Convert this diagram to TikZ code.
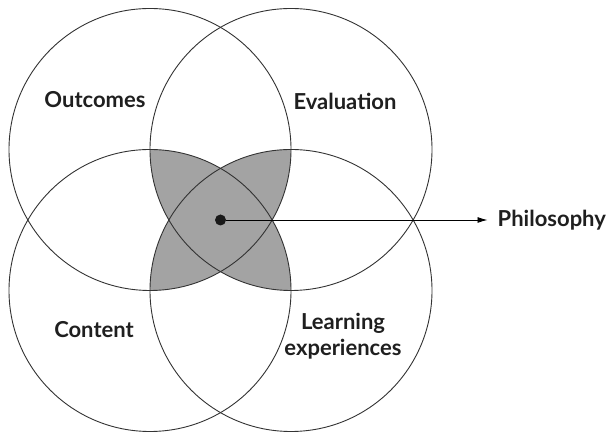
\documentclass[tikz,border=0pt]{standalone}
\usepackage{fontspec}
\setmainfont{Lato}
\usetikzlibrary{arrows.meta, calc}

\begin{document}
\begin{tikzpicture}[
  x=1pt, y=1pt,
  ring/.style = {draw=black!80, line width=0.9pt},
  petal/.style = {fill=black!36},
  tag/.style = {font=\bfseries\fontsize{22}{26}\selectfont, text=black!88, align=center, inner sep=0pt},
  hub/.style = {circle, fill=black!90, minimum size=11pt, inner sep=0pt},
  pointer/.style = {-{Latex[length=10pt, width=6pt]}, line width=0.9pt, shorten >=10pt}
]

% Frame
\useasboundingbox (0,0) rectangle (606,433);

% Parameters
\def\R{141}
\def\D{70.5}

% Coordinates
\coordinate (mid) at (220.5, 213);
\coordinate (cTL) at ($(mid)+(-\D, \D)$);
\coordinate (cTR) at ($(mid)+(\D, \D)$);
\coordinate (cBL) at ($(mid)+(-\D, -\D)$);
\coordinate (cBR) at ($(mid)+(\D, -\D)$);

% Shaded overlap
\begin{scope}
  \clip (cTL) circle (\R);
  \fill[petal] (cBR) circle (\R);
\end{scope}
\begin{scope}
  \clip (cTR) circle (\R);
  \fill[petal] (cBL) circle (\R);
\end{scope}

% Circles
\foreach \c in {cTL, cTR, cBL, cBR}
  \draw[ring] (\c) circle (\R);

% Labels
\node[tag] (outcomes) at ($(cTL)+(-55, 50)$) {Outcomes};
\node[tag] (evaluation) at ($(cTR)+(54, 48)$) {Evaluation};
\node[tag] (content) at ($(cBL)+(-56, -39)$) {Content};
\node[tag] (learning) at ($(cBR)+(52, -46)$) {Learning\\experiences};

% Philosophy
\node[hub] (hub) at (mid) {};
\node[tag, anchor=west] (philo) at ($(mid)+(277, 0)$) {Philosophy};
\draw[pointer] (hub) -- (philo);

\end{tikzpicture}
\end{document}
